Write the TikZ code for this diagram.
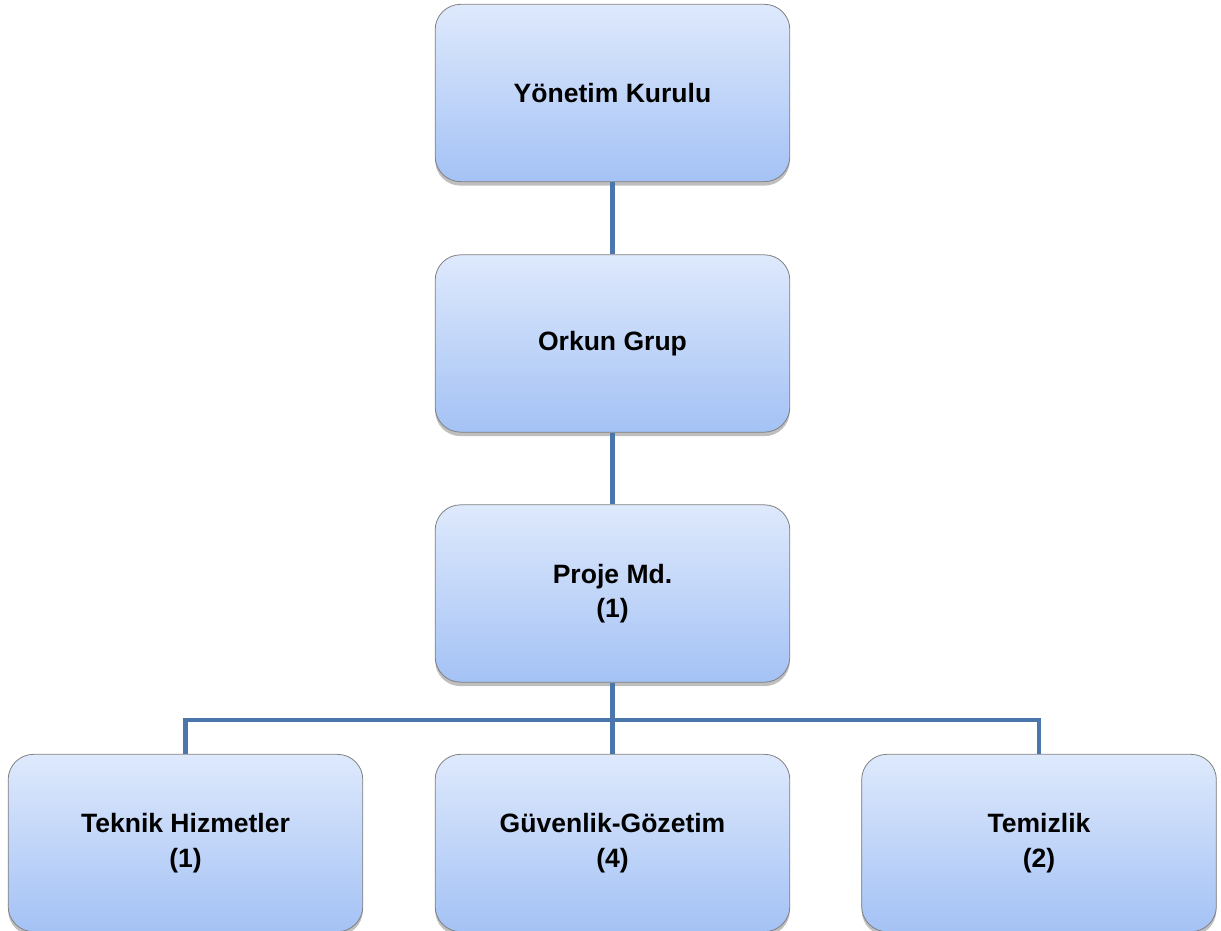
\documentclass[tikz,border=0pt]{standalone}
\usepackage{fontspec}
\setmainfont{Liberation Sans}
\usetikzlibrary{shadows}

\definecolor{boxtop}{RGB}{222,233,252}
\definecolor{boxbot}{RGB}{164,194,245}
\definecolor{boxline}{RGB}{128,128,128}
\definecolor{linkline}{RGB}{74,118,172}

\tikzset{every picture/.style={line width=0.75pt}}
\tikzset{
  orgbox/.style={rounded corners=19pt, draw=boxline, line width=0.6pt,
    top color=boxtop, bottom color=boxbot,
    minimum width=266pt, minimum height=133pt, align=center,
    font=\fontsize{19.9}{26}\selectfont\bfseries,
    drop shadow={shadow xshift=0pt, shadow yshift=-3pt, opacity=0.25, fill=black}},
  orglink/.style={draw=linkline, line width=3.6pt}
}

\begin{document}
\begin{tikzpicture}[x=0.75pt,y=0.75pt,yscale=-1,xscale=1]
\useasboundingbox (0,0) rectangle (1221,931);

%Rounded Rect: top level
\node [orgbox] (yk) at (612.5,93) {Yönetim Kurulu};
%Rounded Rect
\node [orgbox] (og) at (612.5,343.5) {Orkun Grup};
%Rounded Rect
\node [orgbox] (pm) at (612.5,593.5) {Proje Md.\\(1)};
%Rounded Rect: bottom row
\node [orgbox] (th) at (185.5,843) {Teknik Hizmetler\\(1)};
\node [orgbox] (gg) at (612.5,843) {Güvenlik-Gözetim\\(4)};
\node [orgbox] (tz) at (1039,843) {Temizlik\\(2)};

% Links
\coordinate (bus) at (612.5,720);
\draw [orglink] (yk.south) -- (og.north);
\draw [orglink] (og.south) -- (pm.north);
\draw [orglink] (pm.south) -- (gg.north);
\draw [orglink] (th.north) |- (bus) -| (tz.north);

\end{tikzpicture}
\end{document}
